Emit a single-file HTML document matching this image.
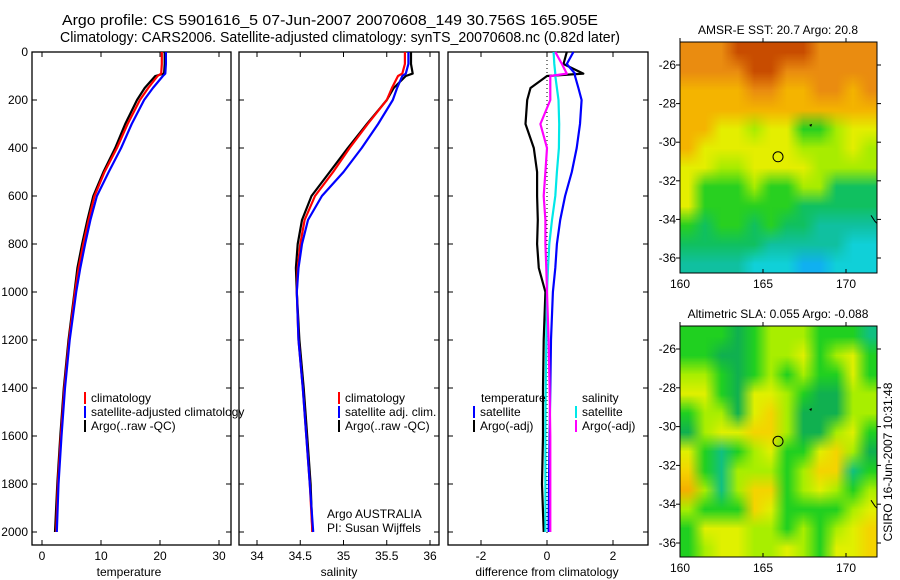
<!DOCTYPE html>
<html><head><meta charset="utf-8"><style>
html,body{margin:0;padding:0;background:#fff;}
#wrap{position:relative;width:900px;height:580px;overflow:hidden;font-family:"Liberation Sans",sans-serif;}
svg{position:absolute;left:0;top:0;}
canvas{position:absolute;image-rendering:auto;}
text{font-family:"Liberation Sans",sans-serif;font-size:12px;fill:#000;}
</style></head><body>
<div id="wrap">
<canvas id="sst" width="12" height="12" style="left:680px;top:42px;width:197px;height:231px;"></canvas>
<canvas id="sla" width="12" height="12" style="left:680px;top:326px;width:197px;height:231px;"></canvas>
<svg id="svg" width="900" height="580" xmlns="http://www.w3.org/2000/svg"></svg>
</div>
<script>
// ---- data ----
const depths = [0,50,90,100,150,200,300,400,500,600,700,800,900,1000,1200,1400,1600,1800,2000];
const tempClim = [20.3,20.3,20.2,19.6,18.0,16.6,14.5,12.7,10.6,8.9,7.9,7.0,6.2,5.6,4.6,3.8,3.2,2.7,2.4];
const tempSat  = [21.0,21.0,20.9,20.5,18.8,17.3,15.2,13.4,11.3,9.3,8.2,7.3,6.5,5.8,4.7,3.9,3.3,2.8,2.5];
const tempArgo = [20.8,20.8,20.7,19.2,17.4,16.1,14.1,12.4,10.4,8.7,7.7,6.8,6.0,5.5,4.5,3.7,3.1,2.6,2.2];
const salClim = [35.71,35.71,35.68,35.63,35.56,35.50,35.28,35.07,34.88,34.67,34.55,34.50,34.47,34.46,34.48,34.53,34.57,34.61,34.64];
const salSat  = [35.75,35.75,35.72,35.68,35.62,35.57,35.40,35.21,35.00,34.75,34.59,34.52,34.48,34.46,34.48,34.53,34.57,34.61,34.65];
const salArgo = [35.78,35.78,35.80,35.72,35.58,35.50,35.27,35.05,34.84,34.63,34.52,34.47,34.45,34.46,34.49,34.54,34.58,34.62,34.64];
const dTempSat  = [0.8,0.6,0.85,0.85,0.95,1.05,1.0,0.9,0.75,0.55,0.4,0.3,0.25,0.18,0.12,0.1,0.08,0.06,0.05];
const dTempArgo = [0.6,0.5,1.1,0.0,-0.5,-0.6,-0.65,-0.4,-0.3,-0.3,-0.28,-0.3,-0.25,-0.05,-0.1,-0.12,-0.12,-0.15,-0.1];
const dSalSat   = [0.2,0.22,0.25,0.25,0.3,0.35,0.37,0.36,0.3,0.25,0.15,0.07,0.03,0.0,-0.02,-0.04,-0.05,-0.05,-0.05];
const dSalArgo  = [0.25,0.45,0.6,0.1,0.1,0.1,-0.2,0.0,-0.05,-0.1,-0.05,-0.05,-0.02,0.0,0.05,0.08,0.1,0.1,0.1];
const depthTicks = [0,200,400,600,800,1000,1200,1400,1600,1800,2000];
const tempTicks = [0,10,20,30];
const salTicks = [34,34.5,35,35.5,36];
const diffTicks = [-2,0,2];
const latTicks = [-26,-28,-30,-32,-34,-36];
const lonTicks = [160,165,170];
const argoPos = [165.905,-30.756];
// map colour grids (rows lat -25..-36, cols lon 160..171)
const sstGrid = ["oooOOOOOoooo","ooooOOoooooo","AAAAooAAooAo","AAAAAAAAAAAA","AAYYLYYGGLYY","AYYYYYYLLLYL","YYLLYYYYLLLL","YGGGLGGLLggg","YGGGGGGggggg","GgGGgGggTTTT","gggggTTTTTCC","TTTTCCCBBCCC"];
const slaGrid = ["GGGgGLLLGGGT","GGggGLLYGLYG","LLGgGLGLGGYG","YYGgYYLGggLL","GLLgYALgggLL","gLYYAALggLYG","YGTGLYGGYALg","AGTLLLGLAATG","oLTLAAGLYLGL","LGGGAYGGGGLY","GYYYLLGLGLYA","GLYYLLYLGYYA"];
const sstColors = {O:"#c84c00",o:"#ea8c10",A:"#f4b400",Y:"#e4ee00",L:"#a8ec00",G:"#28d020",g:"#10c060",T:"#10c0a0",C:"#10d0d8",B:"#10b0f0"};
const slaColors = {G:"#20d020",g:"#10b050",T:"#10c080",L:"#a8ee00",Y:"#e0f000",A:"#f4d400",o:"#f4b000"};

const svg = document.getElementById('svg');
const NS = "http://www.w3.org/2000/svg";
function el(tag, attrs, parent){const e=document.createElementNS(NS,tag);for(const k in attrs)e.setAttribute(k,attrs[k]);(parent||svg).appendChild(e);return e;}
function txt(x,y,s,anchor,parent){const t=el('text',{x:x,y:y,'text-anchor':anchor||'start'},parent);t.textContent=s;return t;}

const yTop=52, yBot=545;
function yD(d){return 52 + d*0.24;}
const panels = [
 {x0:32,x1:231,f:v=>42+v*5.9,ticks:tempTicks,label:'temperature',lx:129,name:'temperature-panel'},
 {x0:239,x1:439,f:v=>257+(v-34)*86.5,ticks:salTicks,label:'salinity',lx:339,name:'salinity-panel'},
 {x0:448,x1:648,f:v=>547+v*33,ticks:diffTicks,label:'difference from climatology',lx:547,name:'difference-panel'}
];
// titles
let t=txt(62,25,'Argo profile: CS 5901616_5 07-Jun-2007 20070608_149 30.756S 165.905E','start');
t.setAttribute('style','font-size:15px');t.setAttribute('textLength','536');t.setAttribute('lengthAdjust','spacingAndGlyphs');

t=txt(60,42,'Climatology: CARS2006. Satellite-adjusted climatology: synTS_20070608.nc (0.82d later)','start');
t.setAttribute('style','font-size:15px');t.setAttribute('textLength','560');t.setAttribute('lengthAdjust','spacingAndGlyphs');


panels.forEach((p,i)=>{
  const g=el('g',{});
  
  
  el('rect',{x:p.x0,y:yTop,width:p.x1-p.x0,height:yBot-yTop,fill:'none',stroke:'#000','stroke-width':1.3},g);
  p.ticks.forEach(v=>{const x=p.f(v);
    el('line',{x1:x,x2:x,y1:yBot,y2:yBot-5,stroke:'#000'},g);
    el('line',{x1:x,x2:x,y1:yTop,y2:yTop+5,stroke:'#000'},g);
    const tl=txt(x,560,String(v),'middle',g);
    
  });
  depthTicks.forEach(d=>{const y=yD(d);
    el('line',{x1:p.x0,x2:p.x0+5,y1:y,y2:y,stroke:'#000'},g);
    el('line',{x1:p.x1,x2:p.x1-5,y1:y,y2:y,stroke:'#000'},g);
  });
  const xl=txt(p.lx,576,p.label,'middle',g);
  
});
depthTicks.forEach(d=>{const tl=txt(28,yD(d)+4,String(d),'end');
  });

function line(vals,p,color,name,w){
  const pts=vals.map((v,i)=>p.f(v).toFixed(1)+','+yD(depths[i]).toFixed(1)).join(' ');
  const pl=el('polyline',{points:pts,fill:'none',stroke:color,'stroke-width':w||2.2,'stroke-linejoin':'round'});
  
  
}
const P=panels;
line(tempArgo,P[0],'#000','temp-argo-line');
line(tempClim,P[0],'#f00','temp-climatology-line');
line(tempSat,P[0],'#00f','temp-satellite-line');
line(salArgo,P[1],'#000','sal-argo-line');
line(salClim,P[1],'#f00','sal-climatology-line');
line(salSat,P[1],'#00f','sal-satellite-line');
const zl=el('line',{x1:P[2].f(0),x2:P[2].f(0),y1:yTop,y2:yBot-10,stroke:'#000','stroke-dasharray':'1,3'});

line(dTempArgo,P[2],'#000','diff-temp-argo-line');
line(dTempSat,P[2],'#00f','diff-temp-satellite-line');
line(dSalSat,P[2],'#00e8e8','diff-sal-satellite-line');
line(dSalArgo,P[2],'#f0f','diff-sal-argo-line');

function legend(x,y,color,label){
  const g=el('g',{});
  
  
  el('rect',{x:x,y:y-10,width:2,height:12,fill:color},g);
  txt(x+7,y,label,'start',g);
}
legend(84,402,'#f00','climatology');
legend(84,416,'#00f','satellite-adjusted climatology');
legend(84,430,'#000','Argo(..raw -QC)');
legend(338,402,'#f00','climatology');
legend(338,416,'#00f','satellite adj. clim.');
legend(338,430,'#000','Argo(..raw -QC)');
let lt=txt(481,402,'temperature');
lt=txt(582,402,'salinity');
legend(473,416,'#00f','satellite');
legend(473,430,'#000','Argo(-adj)');
legend(575,416,'#00e8e8','satellite');
legend(575,430,'#f0f','Argo(-adj)');
lt=txt(327,518,'Argo AUSTRALIA');
lt=txt(327,532,'PI: Susan Wijffels');

// maps
function paint(id,grid,cols){
  const c=document.getElementById(id).getContext('2d');
  grid.forEach((row,r)=>{for(let k=0;k<row.length;k++){c.fillStyle=cols[row[k]];c.fillRect(k,r,1,1);}});
}
paint('sst',sstGrid,sstColors);
paint('sla',slaGrid,slaColors);
function mapAxes(top,bot,title,name,l26,l36){
  const g=el('g',{});
  
  
  const x0=680,x1=877;
  const lx=v=>680+(v-160)*16.6;
  const ly=v=>l26+(v+26)*(l36-l26)/(-10);
  el('rect',{x:x0,y:top,width:x1-x0,height:bot-top,fill:'none',stroke:'#000'},g);
  const tt=txt(778,top-8,title,'middle',g);
  
  lonTicks.forEach(v=>{const x=lx(v);
    el('line',{x1:x,x2:x,y1:bot,y2:bot-4,stroke:'#000'},g);
    el('line',{x1:x,x2:x,y1:top,y2:top-4,stroke:'#000'},g);
    txt(x,bot+15,String(v),'middle',g);});
  latTicks.forEach(v=>{const y=ly(v);
    el('line',{x1:x0,x2:x0-4,y1:y,y2:y,stroke:'#000'},g);
    el('line',{x1:x1,x2:x1+4,y1:y,y2:y,stroke:'#000'},g);
    txt(676,y+4,String(v),'end',g);});
  const c=el('circle',{cx:lx(argoPos[0]),cy:ly(argoPos[1]),r:5,fill:'none',stroke:'#000','stroke-width':1},g);
  
  el('path',{d:`M${lx(167.9)-2} ${ly(-29.1)} l3 -1 l-1 3 z`,fill:'#000'},g);
  el('path',{d:`M${x1-6} ${ly(-34)-4} l4 6 l2 2`,fill:'none',stroke:'#000'},g);
}
mapAxes(42,273,'AMSR-E SST: 20.7 Argo: 20.8','sst-map-axes',65,258);
mapAxes(326,557,'Altimetric SLA: 0.055 Argo: -0.088','sla-map-axes',349,543);
const cs=txt(0,0,'CSIRO 16-Jun-2007 10:31:48','middle');
cs.setAttribute('transform','translate(892,462) rotate(-90)');


</script>
</body></html>
